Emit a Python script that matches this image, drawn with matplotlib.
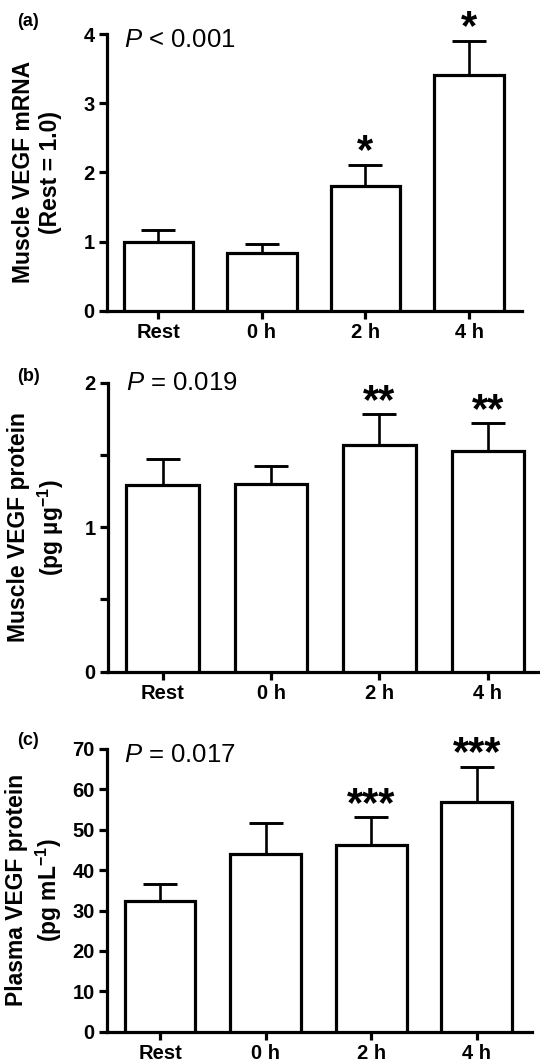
import numpy as np
import matplotlib
matplotlib.use("Agg")
import matplotlib.pyplot as plt

plt.rcParams['font.family'] = ['Liberation Sans', 'DejaVu Sans']
plt.rcParams['mathtext.fontset'] = 'custom'
plt.rcParams['mathtext.rm'] = 'Liberation Sans'
plt.rcParams['mathtext.it'] = 'Liberation Sans:italic'
plt.rcParams['mathtext.bf'] = 'Liberation Sans:bold'

groups = ["Rest", "0 h", "2 h", "4 h"]

# (a) muscle VEGF mRNA, relative to rest
mrna_mean = [1.00, 0.84, 1.81, 3.41]
mrna_err = [0.17, 0.12, 0.30, 0.49]
mrna_stars = ["", "", "*", "*"]

# (b) muscle VEGF protein, pg/ug
musc_mean = [1.29, 1.30, 1.57, 1.53]
musc_err = [0.18, 0.12, 0.21, 0.19]
musc_stars = ["", "", "**", "**"]

# (c) plasma VEGF protein, pg/mL
plasma_mean = [32.4, 44.1, 46.3, 56.8]
plasma_err = [4.1, 7.5, 6.8, 8.8]
plasma_stars = ["", "", "***", "***"]

panels = [
    dict(tag="(a)", mean=mrna_mean, err=mrna_err, stars=mrna_stars,
         ptext="$P$ < 0.001",
         ylabel="Muscle VEGF mRNA\n(Rest = 1.0)",
         yticks=[0, 1, 2, 3, 4], ylabels=["0", "1", "2", "3", "4"], ylim=(0, 4),
         rect=[0.1981, 0.7077, 0.7694, 0.2603], xlim=(-0.495, 3.516),
         ptxt_y=0.954, labx=-0.108, tag_y=0.980),
    dict(tag="(b)", mean=musc_mean, err=musc_err, stars=musc_stars,
         ptext="$P$ = 0.019",
         ylabel="Muscle VEGF protein\n(pg µg$^{\\mathbf{-1}}$)",
         yticks=[0, 0.5, 1, 1.5, 2], ylabels=["0", "", "1", "", "2"], ylim=(0, 2),
         rect=[0.2006, 0.3681, 0.7994, 0.2719], xlim=(-0.5, 3.48),
         ptxt_y=0.975, labx=-0.098, tag_y=0.646),
    dict(tag="(c)", mean=plasma_mean, err=plasma_err, stars=plasma_stars,
         ptext="$P$ = 0.017",
         ylabel="Plasma VEGF protein\n(pg mL$^{\\mathbf{-1}}$)",
         yticks=list(range(0, 80, 10)), ylabels=[str(v) for v in range(0, 80, 10)],
         ylim=(0, 70),
         rect=[0.1987, 0.0294, 0.7859, 0.2660], xlim=(-0.5, 3.52),
         ptxt_y=0.955, labx=-0.103, tag_y=0.303),
]

fig = plt.figure(figsize=(5.4, 10.63), dpi=100)
x = np.arange(len(groups))

for p in panels:
    ax = fig.add_axes(p["rect"])
    ax.bar(x, p["mean"], width=0.67, color="white", edgecolor="black",
           linewidth=2.3, zorder=3)
    ax.errorbar(x, p["mean"], yerr=[np.zeros(len(x)), p["err"]], fmt="none",
                ecolor="black", elinewidth=1.9, capsize=12.5, capthick=2.1, zorder=2)
    for i, s in enumerate(p["stars"]):
        if s:
            ax.annotate(s, xy=(x[i], p["mean"][i] + p["err"][i]), xytext=(0, 1),
                        textcoords="offset points", ha="center", va="baseline",
                        fontsize=30, fontweight="bold", annotation_clip=False)
    ax.set_xlim(*p["xlim"])
    ax.set_ylim(*p["ylim"])
    ax.set_xticks(x, groups, fontsize=14.5, fontweight="bold")
    ax.set_yticks(p["yticks"], p["ylabels"], fontsize=14.5, fontweight="bold")
    ax.tick_params(direction="out", length=6, width=2.3, pad=3)
    for side in ["top", "right"]:
        ax.spines[side].set_visible(False)
    for side in ["left", "bottom"]:
        ax.spines[side].set_linewidth(2.3)
    ax.set_ylabel(p["ylabel"], fontsize=16.5, fontweight="bold", linespacing=1.25)
    ax.yaxis.set_label_coords(p["labx"], 0.5)
    ax.text(0.04, p["ptxt_y"], p["ptext"], transform=ax.transAxes,
            fontsize=18.5, ha="left", va="baseline")
    fig.text(0.031, p["tag_y"], p["tag"], fontsize=13, fontweight="bold",
             ha="left", va="center")

fig.savefig("out.png", dpi=100)
